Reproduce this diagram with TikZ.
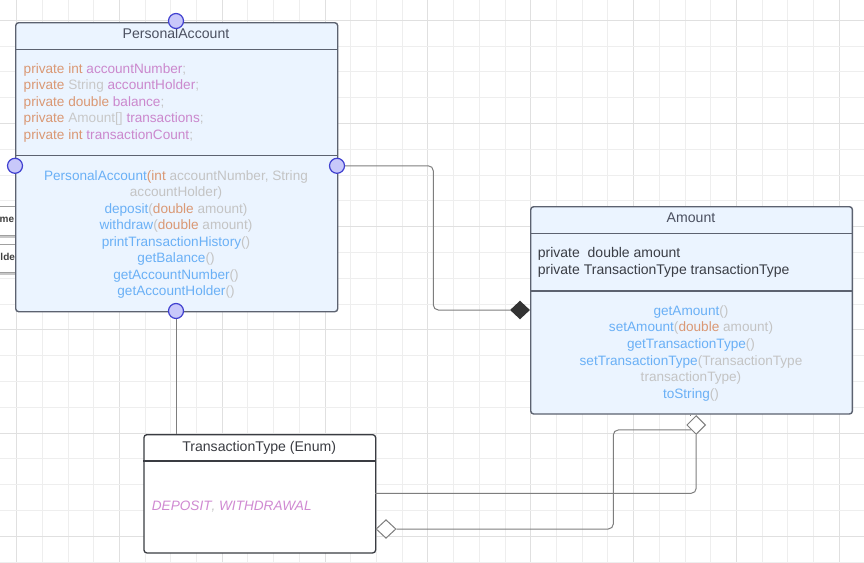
\documentclass[tikz,border=0pt]{standalone}
\usepackage{fontspec}
\setmainfont{Liberation Sans}
\usetikzlibrary{shapes.geometric,shadows}

\definecolor{gridminor}{HTML}{EEEEEE}
\definecolor{gridmajor}{HTML}{E0E0E0}
\definecolor{boxline}{HTML}{5C6270}
\definecolor{boxfill}{HTML}{EBF4FF}
\definecolor{enumline}{HTML}{3A3C42}
\definecolor{titlec}{HTML}{4B5060}
\definecolor{attrc}{HTML}{3A3D45}
\definecolor{portline}{HTML}{4040D0}
\definecolor{portfill}{HTML}{C8C8FA}
\definecolor{linkc}{HTML}{7E7E7E}
\definecolor{kwc}{HTML}{DA9874}
\definecolor{tyc}{HTML}{C8C8C8}
\definecolor{fdc}{HTML}{CB88CD}
\definecolor{enumc}{HTML}{D08AD2}
\definecolor{mtc}{HTML}{6AB0F6}
\definecolor{pmc}{HTML}{C4C4C4}
\definecolor{stubline}{HTML}{A0A0A0}

% syntax colouring helpers
\newcommand\KW[1]{\textcolor{kwc}{#1}}
\newcommand\TY[1]{\textcolor{tyc}{#1}}
\newcommand\FD[1]{\textcolor{fdc}{#1}}
\newcommand\MT[1]{\textcolor{mtc}{#1}}
\newcommand\PM[1]{\textcolor{pmc}{#1}}

\newcommand\bodysize{\fontsize{13.6}{16.5}\selectfont}
\newcommand\titlesize{\fontsize{14.1}{17}\selectfont}

\begin{document}
\begin{tikzpicture}[x=1pt,y=-1pt,
  umlbox/.style={draw=boxline, line width=1.4pt, rounded corners=3pt, fill=boxfill, inner sep=0},
  enumbox/.style={draw=enumline, line width=1.3pt, rounded corners=3pt, fill=white, inner sep=0},
  sepline/.style={draw=boxline, line width=1.3pt},
  port/.style={circle, draw=portline, fill=portfill, line width=1.2pt, minimum size=15pt, inner sep=0},
  link/.style={draw=linkc, line width=1pt, rounded corners=5pt},
  soliddia/.style={diamond, fill=black!80, inner sep=0, minimum width=20pt, minimum height=18.7pt},
  opendia/.style={diamond, draw=linkc, fill=white, line width=1pt, inner sep=0},
  stub/.style={draw=stubline, line width=0.8pt, fill=white, inner sep=0,
    drop shadow={shadow xshift=0pt, shadow yshift=-2.5pt, fill=black!22, opacity=1}},
  title/.style={inner sep=0, anchor=base, text=titlec, font=\titlesize},
  body/.style={inner sep=0, anchor=base west, font=\bodysize},
  cbody/.style={inner sep=0, anchor=base, font=\bodysize},
]
\useasboundingbox (0,0) rectangle (864,562);
\fill[white] (0,0) rectangle (864,562);

% background grid
\foreach \k in {0,...,32}{
  \pgfmathsetmacro\gx{16.5+25.71*\k}
  \pgfmathtruncatemacro\gm{mod(\k,4)}
  \ifnum\gm=0
    \draw[gridmajor, line width=0.9pt] (\gx,0) -- (\gx,562);
  \else
    \draw[gridminor, line width=0.8pt] (\gx,0) -- (\gx,562);
  \fi
}
\foreach \k in {0,...,21}{
  \pgfmathsetmacro\gy{20.2+25.8*\k}
  \pgfmathtruncatemacro\gm{mod(\k,4)}
  \ifnum\gm=0
    \draw[gridmajor, line width=0.9pt] (0,\gy) -- (864,\gy);
  \else
    \draw[gridminor, line width=0.8pt] (0,\gy) -- (864,\gy);
  \fi
}

% shapes partly hidden at the left border
\node[stub, anchor=north west, minimum width=60pt, minimum height=29pt] (stubA) at (-20,206) {};
\node[stub, anchor=north west, minimum width=60pt, minimum height=28pt] (stubB) at (-20,244) {};
\node[inner sep=0, anchor=base west, font=\fontsize{10}{12}\selectfont\bfseries, text=black!75] (stubAt) at (-0.5,222.7) {me};
\node[inner sep=0, anchor=base west, font=\fontsize{10}{12}\selectfont\bfseries, text=black!75] (stubBt) at (0.3,260.3) {lde};

% class boxes
\node[umlbox, anchor=north west, minimum width=322pt, minimum height=289pt] (pa) at (15,22) {};
\node[umlbox, anchor=north west, minimum width=321.7pt, minimum height=207.3pt] (am) at (530,206) {};
\node[enumbox, anchor=north west, minimum width=231.7pt, minimum height=118.3pt] (tt) at (143.3,434) {};

% compartment separators
\coordinate (paS1) at (15,49.3);
\coordinate (paS2) at (15,155.7);
\coordinate (amS1) at (530,233.3);
\coordinate (amS2) at (530,291);
\coordinate (ttS1) at (143.3,461);
\draw[sepline] (paS1) -- (paS1 -| pa.east);
\draw[sepline] (paS2) -- (paS2 -| pa.east);
\draw[sepline] (amS1) -- (amS1 -| am.east);
\draw[sepline] (amS2) -- (amS2 -| am.east);
\draw[draw=enumline, line width=1.2pt] (ttS1) -- (ttS1 -| tt.east);

% PersonalAccount
\node[title] (paT) at (176,38.8) {PersonalAccount};
\node[body] (paA1) at (23.5,73.2) {\KW{private} \KW{int} \FD{accountNumber}\PM{;}};
\node[body] (paA2) at (23.5,89.7) {\KW{private} \TY{String} \FD{accountHolder}\PM{;}};
\node[body] (paA3) at (23.5,106.2) {\KW{private} \KW{double} \FD{balance}\PM{;}};
\node[body] (paA4) at (23.5,122.7) {\KW{private} \TY{Amount[]} \FD{transactions}\PM{;}};
\node[body] (paA5) at (23.5,139.2) {\KW{private} \KW{int} \FD{transactionCount}\PM{;}};
\node[cbody] (paM1) at (176,180) {\MT{PersonalAccount}\KW{(int} \PM{accountNumber, String}};
\node[cbody] (paM2) at (176,196.5) {\PM{accountHolder)}};
\node[cbody] (paM3) at (176,213) {\MT{deposit}\PM{(}\KW{double} \PM{amount)}};
\node[cbody] (paM4) at (176,229.5) {\MT{withdraw}\PM{(}\KW{double} \PM{amount)}};
\node[cbody] (paM5) at (176,246) {\MT{printTransactionHistory}\PM{()}};
\node[cbody] (paM6) at (176,262.5) {\MT{getBalance}\PM{()}};
\node[cbody] (paM7) at (176,279) {\MT{getAccountNumber}\PM{()}};
\node[cbody] (paM8) at (176,295.5) {\MT{getAccountHolder}\PM{()}};

% Amount
\node[title] (amT) at (691,222.6) {Amount};
\node[body, text=attrc, font=\fontsize{14}{17}\selectfont] (amA1) at (537.7,257.3) {private\hspace{3.9pt} double amount};
\node[body, text=attrc, font=\fontsize{14}{17}\selectfont] (amA2) at (537.7,274.1) {private TransactionType transactionType};
\node[cbody] (amM1) at (691,315) {\MT{getAmount}\PM{()}};
\node[cbody] (amM2) at (691,331.7) {\MT{setAmount}\PM{(}\KW{double} \PM{amount)}};
\node[cbody] (amM3) at (691,348.3) {\MT{getTransactionType}\PM{()}};
\node[cbody] (amM4) at (691,365) {\MT{setTransactionType}\PM{(TransactionType}};
\node[cbody] (amM5) at (691,381.7) {\PM{transactionType)}};
\node[cbody] (amM6) at (691,398.3) {\MT{toString}\PM{()}};

% TransactionType (Enum)
\node[title, text=enumline] (ttT) at (259.2,451.5) {TransactionType (Enum)};
\node[body, font=\bodysize\itshape] (ttV) at (151.7,510.2) {\textcolor{enumc}{DEPOSIT}\PM{,} \textcolor{enumc}{WITHDRAWAL}};

% association ends
\node[soliddia] (amDia) at (520,310) {};
\node[opendia, minimum width=18.8pt, minimum height=18.8pt] (amODia) at (696.2,425) {};
\node[opendia, minimum width=20pt, minimum height=18.6pt] (ttODia) at (386,529) {};

% connection ports on PersonalAccount
\node[port] (pTop) at (176,21) {};
\node[port] (pLeft) at (15,165.8) {};
\node[port] (pRight) at (337,165.8) {};
\node[port] (pBot) at (176,311) {};

% connectors
\coordinate (bendA) at (433.3,0);
\coordinate (bendB) at (613.3,0);
\coordinate (ttOut) at (375,493.3);
\coordinate (tickX) at (690.8,0);
\draw[link] (pBot.south) -- (pBot.south |- tt.north);
\draw[link] (pRight.east) -- (pRight.east -| bendA) -- (bendA |- amDia.west) -- (amDia.west);
\draw[link] (ttOut) -| (amODia.south);
\draw[link] (ttODia.east) -| (bendB |- amODia.south west) -- (amODia.south west);
\draw[link, rounded corners=0pt] (tickX |- am.south) -- (tickX |- amODia.north);
\end{tikzpicture}
\end{document}
